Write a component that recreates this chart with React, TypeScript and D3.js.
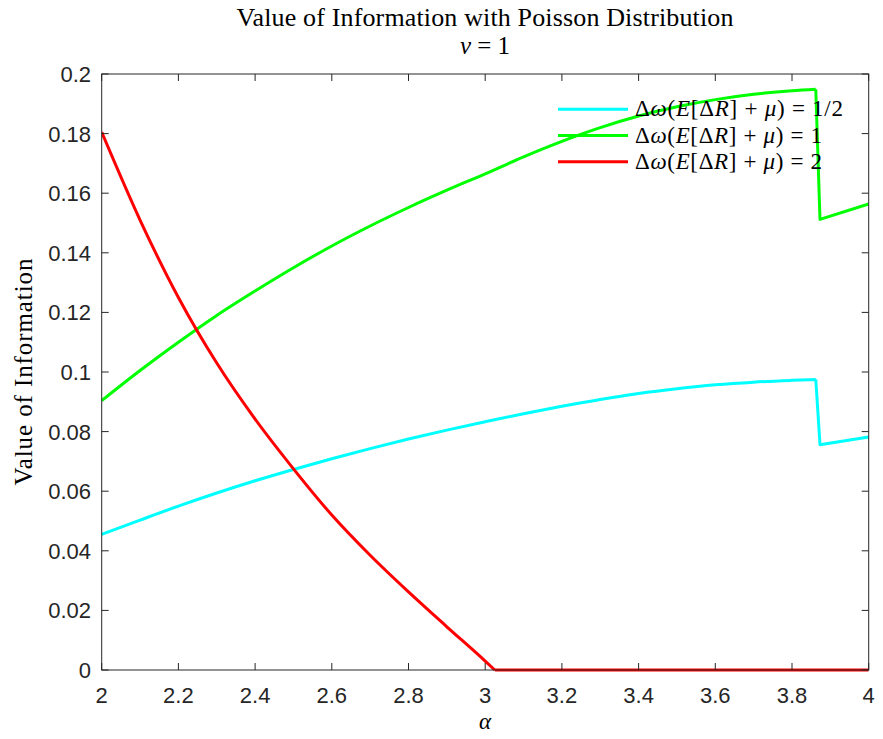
import React from "react";
import * as d3 from "d3";

const alphaGrid = [2.0, 2.1, 2.2, 2.3, 2.4, 2.5, 2.6, 2.7, 2.8, 2.9, 3.0, 3.1, 3.2, 3.3, 3.4, 3.5, 3.6, 3.7, 3.8, 3.862, 3.873, 4.0];
const cyanValues = [0.0455, 0.0503, 0.0550, 0.0594, 0.0635, 0.0673, 0.0709, 0.0743, 0.0775, 0.0805, 0.0833, 0.0860, 0.0885, 0.0908, 0.0928, 0.0944, 0.0957, 0.0966, 0.0972, 0.0975, 0.0756, 0.0782];
const greenValues = [0.0904, 0.1005, 0.1100, 0.1190, 0.1272, 0.1350, 0.1423, 0.1490, 0.1552, 0.1610, 0.1665, 0.1722, 0.1774, 0.1820, 0.1859, 0.1890, 0.1914, 0.1932, 0.1944, 0.1949, 0.1512, 0.1564];
const redAlpha = [2.0, 2.1, 2.2, 2.3, 2.4, 2.5, 2.6, 2.7, 2.8, 2.9, 3.0, 3.025, 4.0];
const redValues = [0.1805, 0.1510, 0.1250, 0.1030, 0.0842, 0.0675, 0.0520, 0.0385, 0.0262, 0.0145, 0.0030, 0.0, 0.0];
const xTicks = [2, 2.2, 2.4, 2.6, 2.8, 3, 3.2, 3.4, 3.6, 3.8, 4];
const yTicks = [0, 0.02, 0.04, 0.06, 0.08, 0.1, 0.12, 0.14, 0.16, 0.18, 0.2];
const legendValues = ["1/2", "1", "2"];
const seriesColors = ["#00FFFF", "#00FF00", "#FF0000"];
// index where each series stops being a smooth curve (jump / kink)
const smoothEnd = [19, 19, 11];

const W = 883, H = 739;
const L = 101.7, R = 868.7, T = 74, B = 670;
const serif = "'Liberation Serif', 'DejaVu Serif', serif";
const sans = "'Liberation Sans', Arial, sans-serif";
const axisColor = "#262626";

export default function App() {
  const x = d3.scaleLinear().domain([2, 4]).range([L, R]);
  const y = d3.scaleLinear().domain([0, 0.2]).range([B, T]);
  const smooth = d3.line<[number, number]>().x(d => x(d[0])).y(d => y(d[1])).curve(d3.curveMonotoneX);
  const straight = d3.line<[number, number]>().x(d => x(d[0])).y(d => y(d[1]));
  const series: [number, number][][] = [
    alphaGrid.map((a, i) => [a, cyanValues[i]]),
    alphaGrid.map((a, i) => [a, greenValues[i]]),
    redAlpha.map((a, i) => [a, redValues[i]]),
  ];
  const tl = 7;
  const legendWidths = [208, 187, 187];
  return (
    <svg width={W} height={H} style={{ position: "absolute", left: 0, top: 0, background: "#fff" }}>
      <rect x={0} y={0} width={W} height={H} fill="#fff" />
      <defs>
        <clipPath id="plotclip"><rect x={L} y={T - 2} width={R - L} height={B - T + 4} /></clipPath>
      </defs>
      <g clipPath="url(#plotclip)">
        {series.map((s, i) => {
          const k = smoothEnd[i];
          const d = (smooth(s.slice(0, k + 1)) || "") + " " + (straight(s.slice(k)) || "");
          return <path key={i} d={d} fill="none" stroke={seriesColors[i]} strokeWidth={3} strokeLinejoin="round" />;
        })}
      </g>
      <rect x={L} y={T} width={R - L} height={B - T} fill="none" stroke={axisColor} strokeWidth={1} />
      {xTicks.map(t => (
        <g key={"x" + t}>
          <line x1={x(t)} x2={x(t)} y1={B} y2={B - tl} stroke={axisColor} />
          <line x1={x(t)} x2={x(t)} y1={T} y2={T + tl} stroke={axisColor} />
          <text x={x(t)} y={703} textAnchor="middle" fontFamily={sans} fontSize={22} fill={axisColor}>{String(t)}</text>
        </g>
      ))}
      {yTicks.map(t => (
        <g key={"y" + t}>
          <line x1={L} x2={L + tl} y1={y(t)} y2={y(t)} stroke={axisColor} />
          <line x1={R} x2={R - tl} y1={y(t)} y2={y(t)} stroke={axisColor} />
          <text x={91} y={y(t) + 8} textAnchor="end" fontFamily={sans} fontSize={22} fill={axisColor}>{String(t)}</text>
        </g>
      ))}
      {legendValues.map((v, i) => {
        const ly = 109.3 + i * 26.2;
        return (
          <g key={"lg" + i}>
            <line x1={558} x2={628} y1={ly} y2={ly} stroke={seriesColors[i]} strokeWidth={3} />
            <text x={635} y={ly + 7} fontFamily={serif} fontSize={23} fill="#000" textLength={legendWidths[i]} lengthAdjust="spacing">
              Δ<tspan fontStyle="italic">ω</tspan>(<tspan fontStyle="italic">E</tspan>[Δ<tspan fontStyle="italic">R</tspan>] + <tspan fontStyle="italic">μ</tspan>) = {v}
            </text>
          </g>
        );
      })}
      <text x={485} y={26} textAnchor="middle" fontFamily={serif} fontSize={26} fill="#000" textLength={497} lengthAdjust="spacing">Value of Information with Poisson Distribution</text>
      <text x={485} y={54} textAnchor="middle" fontFamily={serif} fontSize={25} fill="#000"><tspan fontStyle="italic">ν</tspan> = 1</text>
      <text transform={`translate(32,${(T + B) / 2}) rotate(-90)`} textAnchor="middle" fontFamily={serif} fontSize={25} fill="#000" textLength={227} lengthAdjust="spacing">Value of Information</text>
      <text x={485} y={729} textAnchor="middle" fontFamily={serif} fontSize={23} fontStyle="italic" fill="#000">α</text>
    </svg>
  );
}
